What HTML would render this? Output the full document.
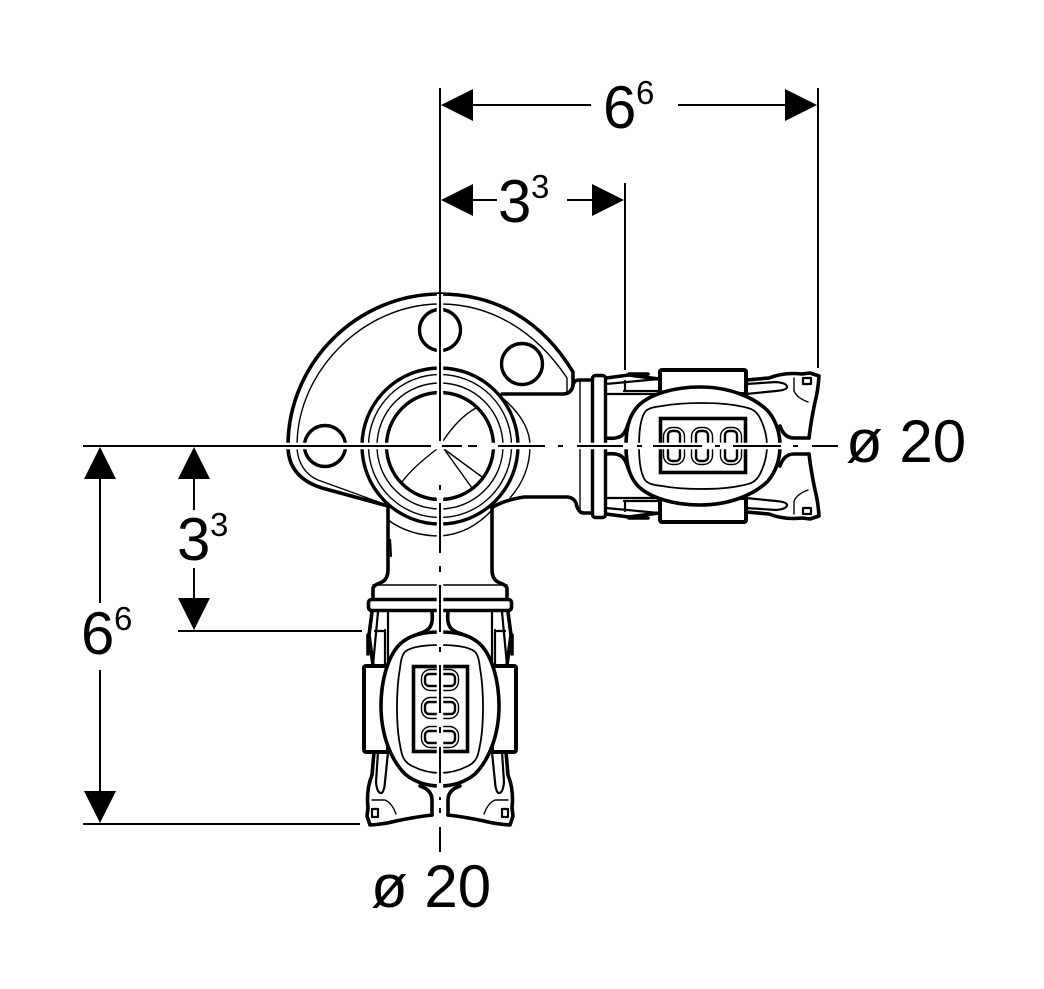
<!DOCTYPE html>
<html><head><meta charset="utf-8"><style>
html,body{margin:0;padding:0;background:#fff;width:1044px;height:989px;overflow:hidden}
svg{display:block}
text{font-family:"Liberation Sans",sans-serif;fill:#000}
.b{font-size:60px}.s{font-size:33px}
.t{fill:none;stroke:#000;stroke-width:3.6;stroke-linejoin:round;stroke-linecap:round}
.m{fill:none;stroke:#000;stroke-width:2.2;stroke-linejoin:round;stroke-linecap:round}
.f{fill:none;stroke:#000;stroke-width:1.4;stroke-linecap:round}
.d{stroke:#000;stroke-width:2;fill:none}
.h{stroke:#fff;stroke-width:6.500;fill:none}
</style></head><body>
<svg width="1044" height="989" viewBox="0 0 1044 989" xmlns="http://www.w3.org/2000/svg">
<defs>
<g id="half">
  <path class="t" d="M372,612 L369,635 L373,665"/>
  <path class="m" d="M378,612 L373,665 M388,612 L388,664 M385,630 L385,665 M375,631 L385,631"/>
  <path class="t" d="M368,635 L368,654"/>
  <path class="t" d="M432,612 Q433,620 431,625 Q429,631 418,634"/>
  <path class="t" d="M374,752 L372,775 Q366,790 368,808 L367,816 L370,825 Q385,824 396,821 Q415,817 432,815"/>
  <path class="m" d="M378,752 L376,782 Q377,793 381,793 Q384,793 385,782 L388,752"/>
  <path class="f" d="M372,800 L385,800 Q392,803 396,814"/>
  <path class="m" d="M372,809 L378,809 L378,817 L372,817 Z"/>
  <path class="t" d="M420,786 Q432,790 432,800 L432,815"/>
  <rect x="364" y="666" width="24" height="86" rx="2" fill="#fff" stroke="#000" stroke-width="4"/>
</g>
<g id="conn">
  <use href="#half"/>
  <use href="#half" transform="translate(880,0) scale(-1,1)"/>
  <path d="M440,632 C420,632 408,636 399,645 C388,657 381,680 381,706 C381,735 391,760 405,774 C416,783 428,786 440,786 C452,786 464,783 475,774 C489,760 499,735 499,706 C499,680 492,657 481,645 C472,636 460,632 440,632 Z" fill="#fff" stroke="#000" stroke-width="3.6"/>
  <path class="m" style="stroke-width:1.8" d="M440,645 C425,645 412,647 406,651 C402,654 401,660 400,668 C396,690 396,725 400,745 C402,757 404,762 412,766 C422,771 432,773 440,773 C448,773 458,771 468,766 C476,762 478,757 480,745 C484,725 484,690 480,668 C479,660 478,654 474,651 C468,647 455,645 440,645 Z"/>
  <rect x="413.500" y="666.500" width="54" height="85" fill="#fff" stroke="#000" stroke-width="3.6"/>
  <g fill="none" stroke="#000">
    <rect x="421.500" y="669.500" width="37" height="21" rx="9" stroke-width="1.4"/>
    <rect x="425" y="674" width="30" height="12" rx="4" stroke-width="2.4"/>
    <rect x="421.500" y="697.500" width="37" height="21" rx="9" stroke-width="1.4"/>
    <rect x="425" y="702" width="30" height="12" rx="4" stroke-width="2.4"/>
    <rect x="421.500" y="726.500" width="37" height="21" rx="9" stroke-width="1.4"/>
    <rect x="425" y="731" width="30" height="12" rx="4" stroke-width="2.4"/>
  </g>
</g>
</defs>

<!-- flange -->
<path d="M388,506 L322,488 C303,482 288,470 288,446 C288,362 358,294 440,294 C495,294 541,322 573,371 L573,385 Q572,393 565,394 L502,394 L440,446 Z" fill="#fff" stroke="none"/>
<path class="t" d="M388,506 L322,488 C303,482 288,470 288,446 C288,362 358,294 440,294 C497,294 543,322 573,372 L573,385 Q572,393 564,394 L502,394"/>
<path class="f" d="M387,505 L318,480 C306,475 297,463 297,446 C297,370 365,304 440,304 C490,304 535,330 567,378 L567,394"/>
<circle cx="440" cy="330" r="20.500" fill="#fff" stroke="#000" stroke-width="3.4"/>
<circle cx="522" cy="364" r="20.500" fill="#fff" stroke="#000" stroke-width="3.4"/>
<circle cx="325" cy="446" r="20.500" fill="#fff" stroke="#000" stroke-width="3.4"/>
<!-- right stem -->
<path class="t" d="M573,385 Q574,380 579,380 L592,380 M493,507 Q505,500 524,497 L568,497 Q574,498 576,503 Q578,513 584,513 L592,513"/>
<path class="f" d="M494,505 Q505,500 522,497 M580,380 L580,513"/>
<rect x="592.500" y="375.500" width="13" height="142" rx="3" fill="#fff" stroke="#000" stroke-width="3.4"/>
<path class="f" d="M499,395 Q530,420 530,446 Q530,475 510,498"/>
<path class="f" d="M388,520 Q410,536 440,536 Q470,534 492,510"/>
<!-- vertical stem -->
<path d="M388,506 L388,570 Q388,580 380,583 Q374,585 373,588 L373,599 L507,599 L507,588 Q506,585 500,583 Q492,580 492,570 L492,506 Z" fill="#fff" stroke="none"/>
<path class="f" d="M388,520 Q410,536 440,536 Q470,534 492,510"/>
<path class="t" d="M388,506 L388,570 Q388,580 380,583 Q374,585 373,588 L373,599 M492,506 L492,570 Q492,580 500,583 Q506,585 507,588 L507,599"/>
<path class="m" d="M390,540 L391,556"/>
<path class="f" d="M373,585 L507,585"/>
<!-- hub -->
<circle cx="440" cy="446" r="78" fill="#fff" stroke="#000" stroke-width="3.4"/>
<circle cx="440" cy="446" r="71.500" fill="none" stroke="#000" stroke-width="1.4"/>
<circle cx="440" cy="446" r="63" fill="none" stroke="#000" stroke-width="1.4"/>
<circle cx="440" cy="446" r="53.500" fill="#fff" stroke="#000" stroke-width="3.4"/>
<path class="f" d="M443,441 Q458,418 476,408 M437,449 Q412,468 402,482 M444,449 L482,477 M444,449 L472,488"/>
<!-- connectors -->
<rect x="368.500" y="599.500" width="143" height="11" rx="3" fill="#fff" stroke="#000" stroke-width="3.6"/>
<use href="#conn"/>
<use href="#conn" transform="matrix(0,-1,1,0,-6,886)"/>
<!-- centre lines -->
<path class="h" d="M83,446 H440 M440,446 V855"/>
<path class="h" d="M440,446 H838"/>
<path class="h" d="M440,294 V446"/>
<path class="d" d="M83,446 H431 M442,446 H462 M468,446 H477 M498,446 H545 M558,446 H563 M577,446 H623 M637,446 H642 M653,446 H702 M715,446 H720 M733,446 H781 M793,446 H798 M812,446 H838"/>
<path class="d" d="M440,88 V441 M440,485 V490 M440,503 V553 M440,566 V572 M440,585 V632 M440,647 V652 M440,665 V713 M440,727 V733 M440,747 V783 M440,797 V800 M440,808 V813 M440,827 V852"/>
<!-- dimensions -->
<path class="d" d="M818,88 V368 M625,183 V370 M471,105 H591 M678,105 H787 M471,200 H497 M567,200 H594 M100,478 V603 M100,670 V792 M194,478 V510 M194,568 V600 M178,631 H362 M83,824 H360"/>
<g fill="#000" stroke="none">
<path d="M441,105 L473,89 V121 Z"/><path d="M817,105 L785,89 V121 Z"/>
<path d="M441,200 L473,184 V216 Z"/><path d="M624,200 L592,184 V216 Z"/>
<path d="M100,447 L84,479 H116 Z"/><path d="M100,823 L84,791 H116 Z"/>
<path d="M194,447 L178,479 H210 Z"/><path d="M194,630 L178,598 H210 Z"/>
</g>
<text class="b" x="603" y="128">6</text><text class="s" x="636" y="104">6</text>
<text class="b" x="498" y="222">3</text><text class="s" x="531" y="198">3</text>
<text class="b" x="81" y="654">6</text><text class="s" x="114" y="630">6</text>
<text class="b" x="177" y="560">3</text><text class="s" x="210" y="536">3</text>
<text class="b" x="846" y="462">ø 20</text>
<text class="b" x="371" y="907">ø 20</text>
</svg>
</body></html>
